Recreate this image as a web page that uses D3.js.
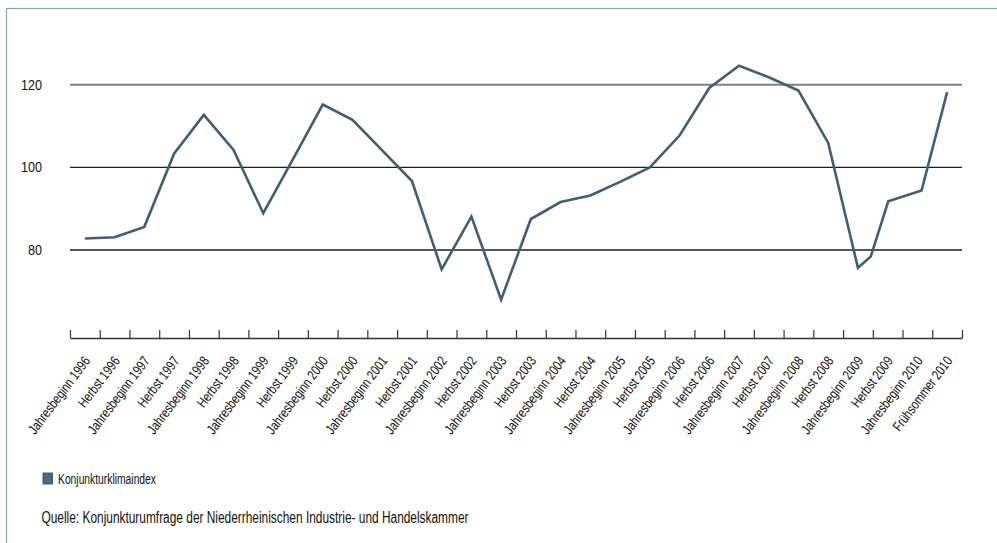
<!DOCTYPE html>
<html>
<head>
<meta charset="utf-8">
<script src="https://cdn.jsdelivr.net/npm/d3@7"></script>
<style>
  html, body { margin: 0; padding: 0; background: #fff; }
  svg { display: block; }
  text { font-family: "Liberation Sans", Arial, sans-serif; }
</style>
</head>
<body>
<div id="chart"></div>
<script>
// ---- data ----
const categories = [
  "Jahresbeginn 1996", "Herbst 1996", "Jahresbeginn 1997", "Herbst 1997",
  "Jahresbeginn 1998", "Herbst 1998", "Jahresbeginn 1999", "Herbst 1999",
  "Jahresbeginn 2000", "Herbst 2000", "Jahresbeginn 2001", "Herbst 2001",
  "Jahresbeginn 2002", "Herbst 2002", "Jahresbeginn 2003", "Herbst 2003",
  "Jahresbeginn 2004", "Herbst 2004", "Jahresbeginn 2005", "Herbst 2005",
  "Jahresbeginn 2006", "Herbst 2006", "Jahresbeginn 2007", "Herbst 2007",
  "Jahresbeginn 2008", "Herbst 2008", "Jahresbeginn 2009", "Herbst 2009",
  "Jahresbeginn 2010", "Frühsommer 2010"
];
// survey time on the category scale (an extra survey in early summer 2009)
const surveyIndex = [0, 1, 2, 3, 4, 5, 6, 7, 8, 9, 10, 11, 12, 13, 14, 15, 16, 17, 18, 19,
  20, 21, 22, 23, 24, 25, 26, 26.43, 27.02, 28.14, 29];
const klimaIndex = [82.8, 83.1, 85.6, 103.3, 112.7, 104.2, 88.9, 102.0, 115.2, 111.5,
  104.1, 96.7, 75.3, 88.1, 68.0, 87.5, 91.6, 93.2, 96.5, 100.0,
  107.7, 119.2, 124.6, 121.8, 118.6, 105.9, 75.7, 78.4, 91.8, 94.4, 118.2];
const yTicks = [80, 100, 120];
const seriesName = "Konjunkturklimaindex";
const sourceText = "Quelle: Konjunkturumfrage der Niederrheinischen Industrie- und Handelskammer";

// ---- layout ----
const W = 997, H = 543;
const lineColor = "#3f5f78";
const svg = d3.select("#chart").append("svg").attr("width", W).attr("height", H);

// frame
svg.append("rect").attr("x", 6.5).attr("y", 8.5).attr("width", W + 20).attr("height", H + 20)
  .attr("fill", "none").attr("stroke", "#8ea3b9").attr("stroke-width", 1.2);

const x = d3.scaleLinear().domain([-0.5, categories.length - 0.5]).range([70, 962]);
const y = d3.scaleLinear().domain([80, 120]).range([250, 84.7]);
const axisY = 338;

// gridlines
svg.append("g").selectAll("line").data(yTicks).join("line")
  .attr("x1", x(-0.5)).attr("x2", x(categories.length - 0.5))
  .attr("y1", d => y(d)).attr("y2", d => y(d))
  .attr("stroke", d => d === 120 ? "#808080" : "#1e1e1e")
  .attr("stroke-width", d => d === 120 ? 2 : 1.3);

// y labels
svg.append("g").selectAll("text").data(yTicks).join("text")
  .attr("transform", d => `translate(42,${y(d) + 5}) scale(0.9,1)`)
  .attr("text-anchor", "end")
  .attr("font-size", 14).attr("fill", "#111")
  .text(d => d);

// x axis
const xAxis = d3.axisTop(x)
  .tickValues(d3.range(categories.length + 1).map(i => i - 0.5))
  .tickSize(8).tickSizeOuter(0).tickFormat("");
const gx = svg.append("g").attr("transform", `translate(0,${axisY})`).call(xAxis);
gx.select(".domain").attr("stroke", "#333").attr("stroke-width", 1.5);
gx.selectAll(".tick line").attr("stroke", "#333").attr("stroke-width", 1.2);

// x labels
svg.append("g").selectAll("text").data(categories).join("text")
  .attr("text-anchor", "end")
  .attr("font-size", 14).attr("fill", "#111")
  .attr("transform", (d, i) => `translate(${x(i) + 6},${axisY + 23}) rotate(-53) scale(0.78,1)`)
  .text(d => d);

// line
const pts = klimaIndex.map((v, i) => [surveyIndex[i], v]);
svg.append("path").datum(pts)
  .attr("fill", "none").attr("stroke", lineColor).attr("stroke-width", 2.6)
  .attr("stroke-linejoin", "miter")
  .attr("d", d3.line().x(d => x(d[0])).y(d => y(d[1])));

// legend
svg.append("rect").attr("x", 43).attr("y", 473).attr("width", 9.5).attr("height", 11)
  .attr("fill", "#4e6a83").attr("stroke", "#2f4255").attr("stroke-width", 0.8);
svg.append("text").attr("x", 58).attr("y", 483.5)
  .attr("font-size", 14).attr("fill", "#111")
  .attr("textLength", 98).attr("lengthAdjust", "spacingAndGlyphs")
  .text(seriesName);

// source
svg.append("text").attr("x", 41.5).attr("y", 522.5)
  .attr("font-size", 16).attr("fill", "#111")
  .attr("textLength", 427).attr("lengthAdjust", "spacingAndGlyphs")
  .text(sourceText);
</script>
</body>
</html>
